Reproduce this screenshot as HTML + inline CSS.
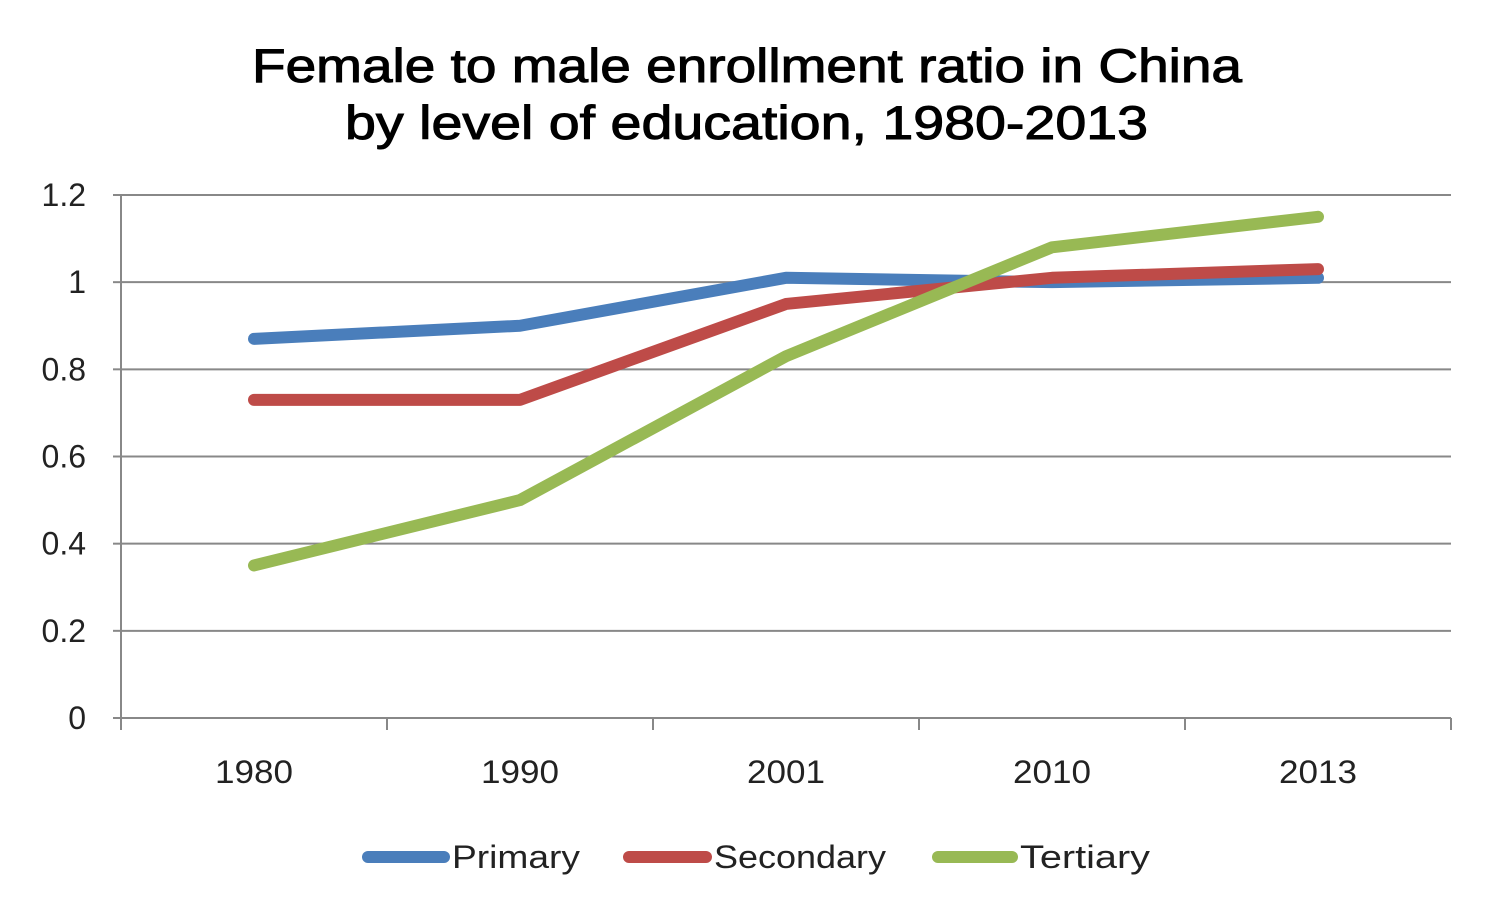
<!DOCTYPE html>
<html><head><meta charset="utf-8"><style>
html,body{margin:0;padding:0;background:#fff;}
svg{display:block;font-family:"Liberation Sans",sans-serif;}
</style></head><body>
<svg id="chart" width="1494" height="924">
<text x="252" y="82" font-size="47" fill="#000" stroke="#000" stroke-width="1" textLength="990" lengthAdjust="spacingAndGlyphs">Female to male enrollment ratio in China</text>
<text x="345" y="139" font-size="47" fill="#000" stroke="#000" stroke-width="1" textLength="803" lengthAdjust="spacingAndGlyphs">by level of education, 1980-2013</text>
<g id="grid"></g><g id="axes"></g><g id="series"></g><g id="legend"></g>
</svg>
<script>
const categories=["1980","1990","2001","2010","2013"];
const primary=[0.87,0.90,1.01,1.00,1.01];
const secondary=[0.73,0.73,0.95,1.01,1.03];
const tertiary=[0.35,0.50,0.83,1.08,1.15];
const yTicks=[0,0.2,0.4,0.6,0.8,1,1.2];
const yTickLabels=["0","0.2","0.4","0.6","0.8","1","1.2"];
const seriesNames=["Primary","Secondary","Tertiary"];
const NS="http://www.w3.org/2000/svg";
const L=121,R=1451,T=195,B=718,band=(R-L)/categories.length;
const x=i=>L+band*(i+0.5);
const y=v=>B-(v/1.2)*(B-T);
function mk(t,a,p){const e=document.createElementNS(NS,t);for(const k in a)e.setAttribute(k,a[k]);p.appendChild(e);return e;}
const grid=document.getElementById('grid'),axes=document.getElementById('axes'),ser=document.getElementById('series'),leg=document.getElementById('legend');
yTicks.forEach((v,i)=>{
 if(v>0){const g=mk('line',{x1:L,x2:R,y1:y(v),y2:y(v),stroke:'#888','stroke-width':2},grid);
 
 }
 const t=mk('text',{x:86,y:y(v)+11,'text-anchor':'end','font-size':32,fill:'#222'},axes);t.textContent=yTickLabels[i];
 
 
 const tk=mk('line',{x1:L-8,x2:L,y1:y(v),y2:y(v),stroke:'#888','stroke-width':2},axes);
 
 
});
const ya=mk('line',{x1:L,x2:L,y1:T,y2:B,stroke:'#888','stroke-width':2},axes);


const xa=mk('line',{x1:L,x2:R,y1:B,y2:B,stroke:'#888','stroke-width':2},axes);


for(let i=0;i<=categories.length;i++){const tk=mk('line',{x1:L+band*i,x2:L+band*i,y1:B,y2:B+12,stroke:'#888','stroke-width':2},axes);
 
 }
categories.forEach((c,i)=>{const t=mk('text',{x:x(i),y:783,'text-anchor':'middle','font-size':32,fill:'#222',textLength:78,lengthAdjust:'spacingAndGlyphs'},axes);t.textContent=c;
 
 });
const colors=["#4a7ebb","#be4b48","#98b954"];
[primary,secondary,tertiary].forEach((d,s)=>{
 const p=mk('polyline',{points:d.map((v,i)=>x(i)+','+y(v)).join(' '),fill:'none',stroke:colors[s],'stroke-width':12,'stroke-linecap':'round','stroke-linejoin':'round'},ser);
 
 
});
const lx=[[362,450,452,128],[623,712,714,172],[932,1018,1020,130]];
seriesNames.forEach((n,s)=>{
 const l=mk('line',{x1:lx[s][0]+6,x2:lx[s][1]-6,y1:857,y2:857,stroke:colors[s],'stroke-width':12,'stroke-linecap':'round'},leg);
 
 
 const t=mk('text',{x:lx[s][2],y:868,'font-size':32,fill:'#222',textLength:lx[s][3],lengthAdjust:'spacingAndGlyphs'},leg);t.textContent=n;
 
 
});
</script>
</body></html>
